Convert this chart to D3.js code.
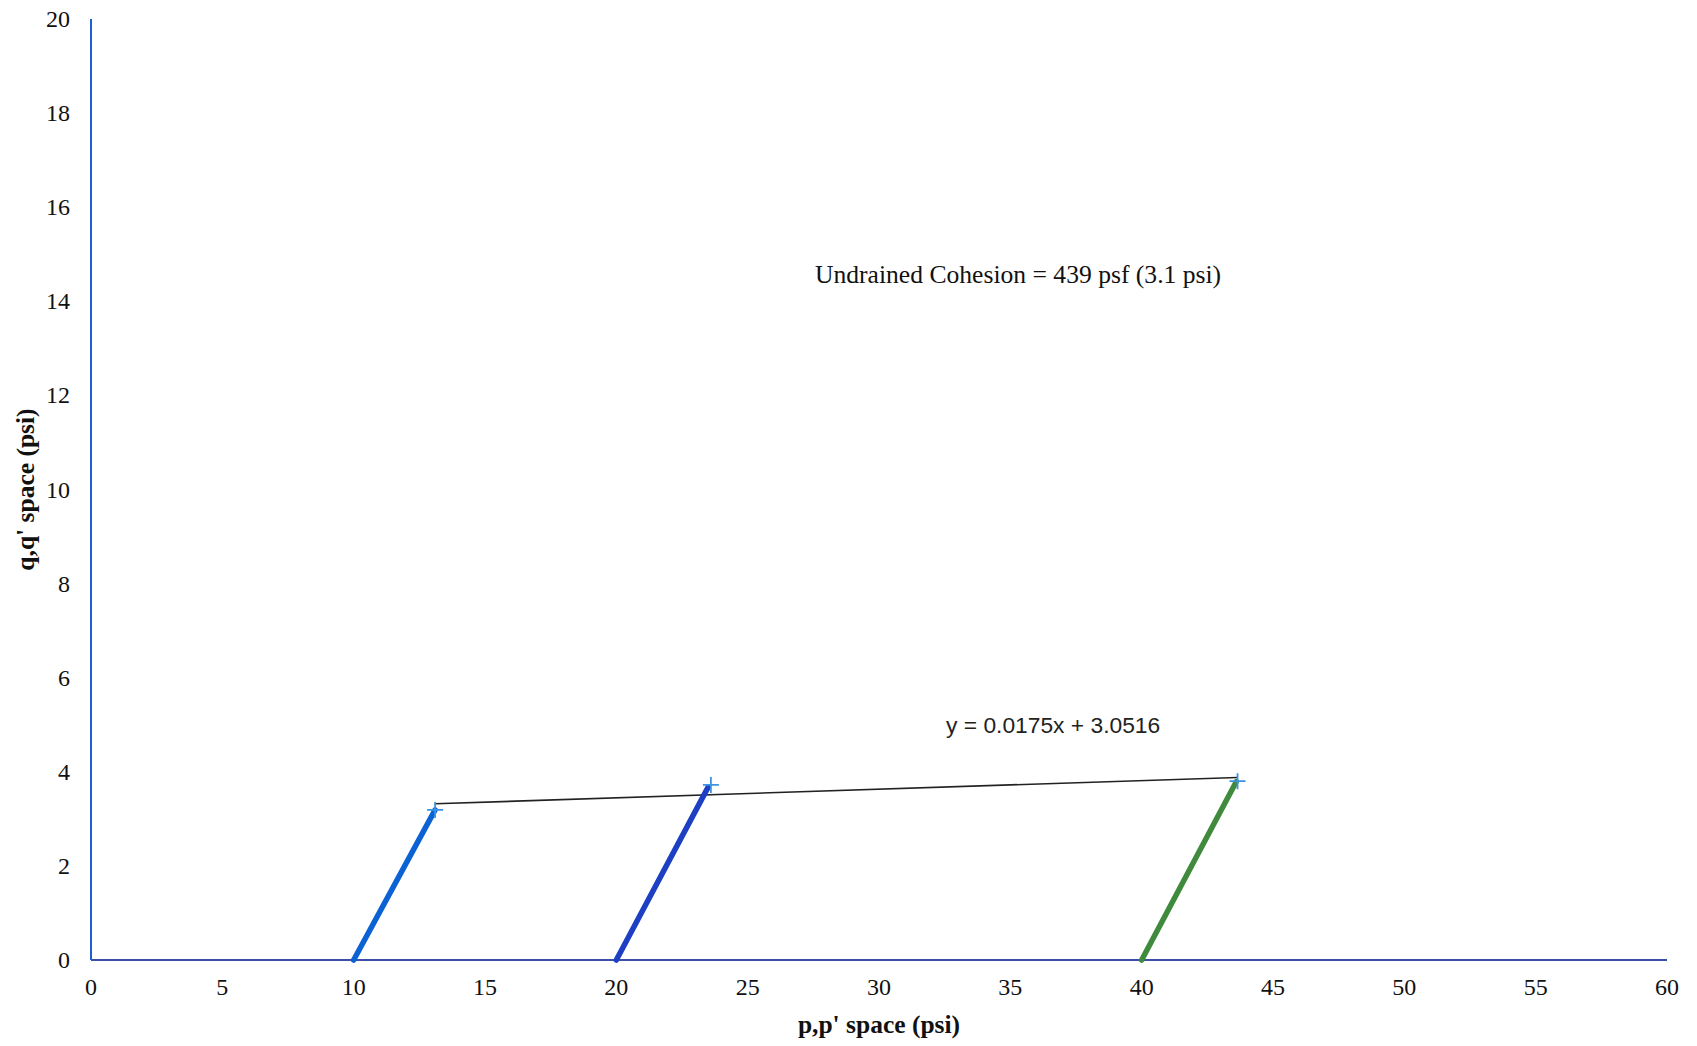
<!DOCTYPE html>
<html>
<head>
<meta charset="utf-8">
<script src="https://cdn.jsdelivr.net/npm/d3@7"></script>
<style>
  body { margin: 0; background: #fff; }
  svg { display: block; }
  .tick-label { font-family: "Liberation Serif", "Times New Roman", serif; font-size: 24px; fill: #111; }
  .axis-title { font-family: "Liberation Serif", "Times New Roman", serif; font-size: 25.5px; font-weight: bold; fill: #111; }
</style>
</head>
<body>
<svg id="chart" width="1697" height="1046"></svg>
<script>
// stress paths, p' -> q' (psi)
var series1 = [[10, 0], [13.1, 3.19]];
var series2 = [[20, 0], [23.5, 3.68]];
var series3 = [[40, 0], [43.6, 3.79]];
var peaks = [[13.1, 3.19], [23.6, 3.72], [43.65, 3.8]];
var trend = [[13.1, 3.32], [43.65, 3.88]];

var xTicks = [0, 5, 10, 15, 20, 25, 30, 35, 40, 45, 50, 55, 60];
var yTicks = [0, 2, 4, 6, 8, 10, 12, 14, 16, 18, 20];

var svg = d3.select('#chart'),
    width = +svg.attr("width"),
    height = +svg.attr("height");

var margin = {top: 19, right: 30, bottom: 86, left: 91};

var x = d3.scaleLinear().domain([0, 60]).range([margin.left, width - margin.right]);
var y = d3.scaleLinear().domain([0, 20]).range([height - margin.bottom, margin.top]);

var line = d3.line().x(d => x(d[0])).y(d => y(d[1]));

// tick labels
svg.append("g").selectAll("text")
    .data(xTicks).enter().append("text")
    .attr("class", "tick-label")
    .attr("x", d => x(d))
    .attr("y", y(0) + 35)
    .attr("text-anchor", "middle")
    .text(d => d);

svg.append("g").selectAll("text")
    .data(yTicks).enter().append("text")
    .attr("class", "tick-label")
    .attr("x", x(0) - 21)
    .attr("y", d => y(d) + 8)
    .attr("text-anchor", "end")
    .text(d => d);

// axes lines
svg.append("line")
    .attr("x1", x(0)).attr("x2", x(0))
    .attr("y1", y(20)).attr("y2", y(0))
    .style("stroke", "#1f5fcf").style("stroke-width", 2);

svg.append("line")
    .attr("x1", x(0)).attr("x2", x(60))
    .attr("y1", y(0)).attr("y2", y(0))
    .style("stroke", "#3b4fa8").style("stroke-width", 2);

// trend line
svg.append("path")
    .attr("d", line(trend))
    .attr("fill", "none")
    .style("stroke", "#222").style("stroke-width", 1.6);

svg.append("path").attr("d", line(series1)).attr("fill", "none")
    .style("stroke", "#0b62d4").style("stroke-width", 5.5).style("stroke-linecap", "round");
svg.append("path").attr("d", line(series2)).attr("fill", "none")
    .style("stroke", "#1c3fc4").style("stroke-width", 5.5).style("stroke-linecap", "round");
svg.append("path").attr("d", line(series3)).attr("fill", "none")
    .style("stroke", "#3f8a3c").style("stroke-width", 5.5).style("stroke-linecap", "round");

// + markers
svg.append("g").selectAll("path")
    .data(peaks).enter().append("path")
    .attr("d", d => {
        var cx = x(d[0]), cy = y(d[1]), s = 8;
        return "M" + (cx - s) + "," + cy + "H" + (cx + s) + "M" + cx + "," + (cy - s) + "V" + (cy + s);
    })
    .style("stroke", "#3b94e0").style("stroke-width", 1.8);

// annotations
svg.append("text")
    .attr("class", "tick-label")
    .attr("x", 815).attr("y", 283)
    .style("font-size", "25.6px")
    .text("Undrained Cohesion = 439 psf (3.1 psi)");

svg.append("text")
    .attr("x", 946).attr("y", 733)
    .style("font-family", "'Liberation Sans', Arial, sans-serif")
    .style("font-size", "22.8px")
    .style("fill", "#222")
    .text("y = 0.0175x + 3.0516");

// axis titles
svg.append("text")
    .attr("class", "axis-title")
    .attr("x", (x(0) + x(60)) / 2)
    .attr("y", 1033)
    .attr("text-anchor", "middle")
    .text("p,p' space (psi)");

svg.append("text")
    .attr("class", "axis-title")
    .attr("transform", "translate(34," + ((y(0) + y(20)) / 2) + ") rotate(-90)")
    .attr("text-anchor", "middle")
    .text("q,q' space (psi)");
</script>
</body>
</html>
